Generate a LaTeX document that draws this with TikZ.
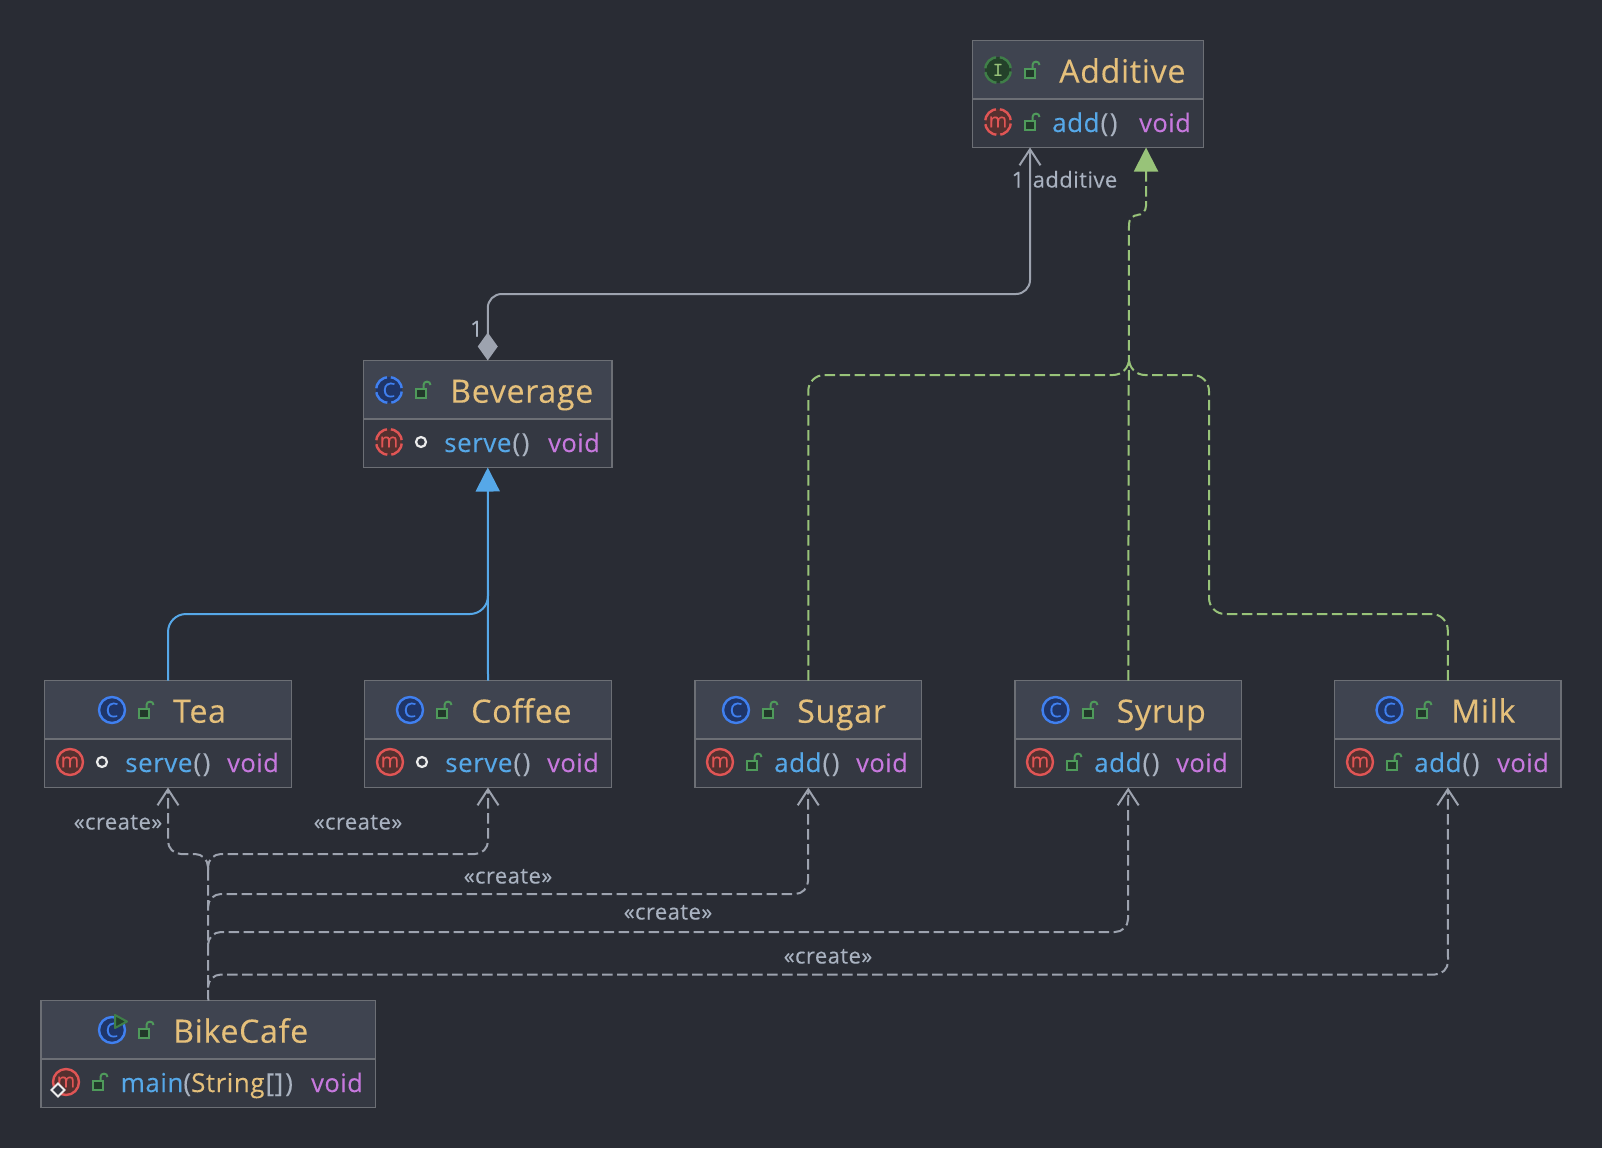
\documentclass[tikz,border=0pt]{standalone}
\usepackage{fontspec}
\setmainfont[LetterSpace=2,FakeBold=0.15]{Open Sans}
\usetikzlibrary{arrows.meta}
\definecolor{bgdark}{HTML}{292C34}
\definecolor{headfill}{HTML}{3F4450}
\definecolor{bodyfill}{HTML}{343842}
\definecolor{edgegray}{HTML}{6C6F75}
\definecolor{titlegold}{HTML}{E5C07B}
\definecolor{methodblue}{HTML}{56A8E8}
\definecolor{voidpurple}{HTML}{C678DD}
\definecolor{parengray}{HTML}{A9B2C0}
\definecolor{linegray}{HTML}{9DA3AF}
\definecolor{implgreen}{HTML}{98C379}
\definecolor{lockgreen}{HTML}{4F9A5B}
\definecolor{lockdark}{HTML}{22382A}
\definecolor{iconblue}{HTML}{4080F0}
\definecolor{icondarkblue}{HTML}{1F3568}
\definecolor{iconred}{HTML}{E05555}
\definecolor{icondarkred}{HTML}{55302F}
\definecolor{icongreen}{HTML}{3F7F48}
\definecolor{icondarkgreen}{HTML}{24412A}
\tikzset{
  classhead/.style = {rectangle, draw=edgegray, fill=headfill, line width=1.8pt,
                      minimum height=58.5pt, outer sep=0pt, inner sep=0pt},
  classbody/.style = {rectangle, draw=edgegray, fill=bodyfill, line width=1.8pt,
                      minimum height=48.5pt, outer sep=0pt, inner sep=0pt},
  titletext/.style = {anchor=base west, inner sep=0pt, text=titlegold, font=\fontsize{32.2}{36}\selectfont},
  membertext/.style = {anchor=base west, inner sep=0pt, text=methodblue, font=\fontsize{26}{30}\selectfont},
  voidtext/.style = {anchor=base west, inner sep=0pt, text=voidpurple, font=\fontsize{25.4}{30}\selectfont},
  edgelabel/.style = {anchor=base, inner sep=0pt, text=parengray, font=\fontsize{22}{26}\selectfont},
  iconring/.style = {circle, minimum size=26pt, inner sep=0pt, line width=2.4pt,
                     font=\fontsize{20}{20}\selectfont},
  classicon/.style = {iconring, draw=iconblue, fill=icondarkblue, text=iconblue},
  methodicon/.style = {iconring, draw=iconred, fill=icondarkred, text=iconred},
  faceicon/.style = {iconring, draw=icongreen, fill=icondarkgreen, text=implgreen},
  broken/.style = {dash pattern=on 16.4pt off 4pt, dash phase=18.4pt},
  pkgdot/.style = {circle, draw=white!85!gray, line width=2.2pt, minimum size=10pt, inner sep=0pt},
  lockline/.style = {draw=lockgreen, line width=2pt},
  composed/.style = {draw=linegray, line width=2pt, rounded corners=14pt},
  extendline/.style = {draw=methodblue, line width=2pt, rounded corners=18pt},
  implline/.style = {draw=implgreen, line width=2pt, dash pattern=on 10.5pt off 4.5pt, rounded corners=16pt},
  createline/.style = {draw=linegray, line width=2pt, dash pattern=on 10.5pt off 4.5pt, rounded corners=13pt},
  opentip/.style = {-{Straight Barb[length=16pt,width=21pt,line width=2pt]}}
}
\newcommand{\emptyparens}{\textcolor{parengray}{\kern1pt(\kern1.5pt)}}
\newcommand{\classbox}[4]{%
  \node [classhead, minimum width={#3-#2}, anchor=north west] (#1) at (#2, #4) {};
  \node [classbody, minimum width={#3-#2}, anchor=north west] (#1-m) at (#1.south west) {};
}
\newcommand{\lockat}[2]{%
  \begin{scope}[shift={(#1, #2)}]
    \draw [lockline, fill=lockdark] (-7.5, -1.5) rectangle (2.5, 7.5);
    \draw [lockline] (0.5, -1.5) -- (0.5, -5) .. controls (0.5, -9.5) and (7.5, -9.5) .. (7.5, -5);
  \end{scope}
}
\begin{document}
\begin{tikzpicture}[x=1pt, y=-1pt]
  \useasboundingbox (0, 0) rectangle (1602, 1148);
  \fill [bgdark] (0, 0) rectangle (1602, 1148);

  \classbox{additive}{972.5}{1203.5}{40.5}
  \classbox{beverage}{363.5}{612}{360.5}
  \classbox{tea}{44.5}{291.5}{680.5}
  \classbox{coffee}{364.5}{611.5}{680.5}
  \classbox{sugar}{695}{921.5}{680.5}
  \classbox{syrup}{1015}{1241.5}{680.5}
  \classbox{milk}{1334.5}{1561}{680.5}
  \classbox{bikecafe}{41}{375.5}{1000.5}

  % Additive
  \node [faceicon, broken] (additive-i) at (998, 70) {\ttfamily\bfseries I};
  \lockat{1032}{70}
  \node [titletext] (additive-t) at (1059, 82.7) {Additive};
  \node [methodicon, broken] (additive-mi) at (998, 122) {m};
  \lockat{1032}{122}
  \node [membertext] (additive-n) at (1052, 132) {add\emptyparens};
  \node [voidtext] (additive-v) at (1139, 132) {void};

  % Beverage
  \node [classicon, broken] (beverage-i) at (389, 390) {C};
  \lockat{423}{390}
  \node [titletext] (beverage-t) at (450, 402.7) {Beverage};
  \node [methodicon, broken] (beverage-mi) at (389, 442) {m};
  \node [pkgdot] (beverage-d) at (421, 442) {};
  \node [membertext] (beverage-n) at (444, 452) {serve\emptyparens};
  \node [voidtext] (beverage-v) at (548, 452) {void};

  % Tea
  \node [classicon] (tea-i) at (112, 710) {C};
  \lockat{146}{710}
  \node [titletext] (tea-t) at (173, 722.7) {Tea};
  \node [methodicon] (tea-mi) at (70, 762) {m};
  \node [pkgdot] (tea-d) at (102, 762) {};
  \node [membertext] (tea-n) at (125, 772) {serve\emptyparens};
  \node [voidtext] (tea-v) at (227, 772) {void};

  % Coffee
  \node [classicon] (coffee-i) at (410, 710) {C};
  \lockat{444}{710}
  \node [titletext] (coffee-t) at (471, 722.7) {Coffee};
  \node [methodicon] (coffee-mi) at (390, 762) {m};
  \node [pkgdot] (coffee-d) at (422, 762) {};
  \node [membertext] (coffee-n) at (445, 772) {serve\emptyparens};
  \node [voidtext] (coffee-v) at (547, 772) {void};

  % Sugar
  \node [classicon] (sugar-i) at (736, 710) {C};
  \lockat{770}{710}
  \node [titletext] (sugar-t) at (797, 722.7) {Sugar};
  \node [methodicon] (sugar-mi) at (720, 762) {m};
  \lockat{754}{762}
  \node [membertext] (sugar-n) at (774, 772) {add\emptyparens};
  \node [voidtext] (sugar-v) at (856, 772) {void};

  % Syrup
  \node [classicon] (syrup-i) at (1055.5, 710) {C};
  \lockat{1090}{710}
  \node [titletext] (syrup-t) at (1116.5, 722.7) {Syrup};
  \node [methodicon] (syrup-mi) at (1040, 762) {m};
  \lockat{1074}{762}
  \node [membertext] (syrup-n) at (1094, 772) {add\emptyparens};
  \node [voidtext] (syrup-v) at (1176, 772) {void};

  % Milk
  \node [classicon] (milk-i) at (1389.5, 710) {C};
  \lockat{1424}{710}
  \node [titletext] (milk-t) at (1451, 722.7) {Milk};
  \node [methodicon] (milk-mi) at (1360, 762) {m};
  \lockat{1394}{762}
  \node [membertext] (milk-n) at (1414, 772) {add\emptyparens};
  \node [voidtext] (milk-v) at (1497, 772) {void};

  % BikeCafe
  \node [classicon] (bikecafe-i) at (112, 1030) {C};
  \draw [draw=icongreen, fill=icondarkgreen, line width=2pt, line join=round]
    (115, 1015) -- (127, 1021.5) -- (115, 1028) -- cycle;
  \lockat{146}{1030}
  \node [titletext] (bikecafe-t) at (173, 1042.7) {BikeCafe};
  \node [methodicon] (bikecafe-mi) at (66, 1082) {m};
  \draw [draw=white!85!gray, fill=bodyfill, line width=1.8pt] (58, 1083.5) -- (64.5, 1090) -- (58, 1096.5) -- (51.5, 1090) -- cycle;
  \lockat{100}{1082}
  \node [membertext] (bikecafe-n) at (120.5, 1092) {main\textcolor{parengray}{(}\textcolor{titlegold}{String}\kern1pt\textcolor{parengray}{[\kern0.5pt]\kern2pt)}};
  \node [voidtext] (bikecafe-v) at (311, 1092) {void};

  % association from Beverage to Additive
  \coordinate (assocTip) at (additive-m.south -| 1030, 0);
  \draw [composed, {Diamond[length=28pt,width=20pt,fill=linegray]}-{Straight Barb[length=16pt,width=21pt,line width=2pt]}]
    (beverage.north) |- (1030, 294) -- (assocTip);
  \node [edgelabel] (assoc-a) at (476.5, 336.5) {1};
  \node [edgelabel] (assoc-b) at (1018, 187.5) {1};
  \node [edgelabel] (assoc-c) at (1075, 187.5) {additive};

  % extends
  \draw [extendline, -{Triangle[length=24pt,width=24pt]}] (coffee.north) -- (beverage-m.south);
  \coordinate (extJoin) at (488, 590);
  \draw [extendline] (tea.north) |- (488, 614) -- (extJoin);

  % implements
  \coordinate (implTip) at (additive-m.south -| 1146, 0);
  \coordinate (implJoin) at (1129, 363);
  \draw [implline, rounded corners=9pt, -{Triangle[length=24pt,width=24pt]}]
    (syrup.north) -- (1129, 215) -| (implTip);
  \draw [implline] (sugar.north) |- (1129, 375) -- (implJoin);
  \draw [implline] (milk.north) |- (1209, 614) |- (1129, 375) -- (implJoin);

  % create
  \coordinate (createA) at (208, 870);
  \coordinate (createB) at (208, 903);
  \coordinate (createC) at (208, 943);
  \coordinate (createD) at (208, 984);
  \draw [createline] (bikecafe.north) -- (createA);
  \draw [createline, opentip] (createA) |- (168, 854) -- (tea-m.south);
  \draw [createline, opentip] (createA) |- (488, 854) -- (coffee-m.south);
  \draw [createline, opentip] (createB) |- (808, 894) -- (sugar-m.south);
  \draw [createline, opentip] (createC) |- (1128, 932) -- (syrup-m.south);
  \draw [createline, opentip] (createD) |- (1448, 974.5) -- (milk-m.south);
  \node [edgelabel] (create-a) at (118, 829.5) {«create»};
  \node [edgelabel] (create-b) at (358, 829.5) {«create»};
  \node [edgelabel] (create-c) at (508, 883.5) {«create»};
  \node [edgelabel] (create-d) at (668, 919.5) {«create»};
  \node [edgelabel] (create-e) at (828, 963.5) {«create»};
\end{tikzpicture}
\end{document}
